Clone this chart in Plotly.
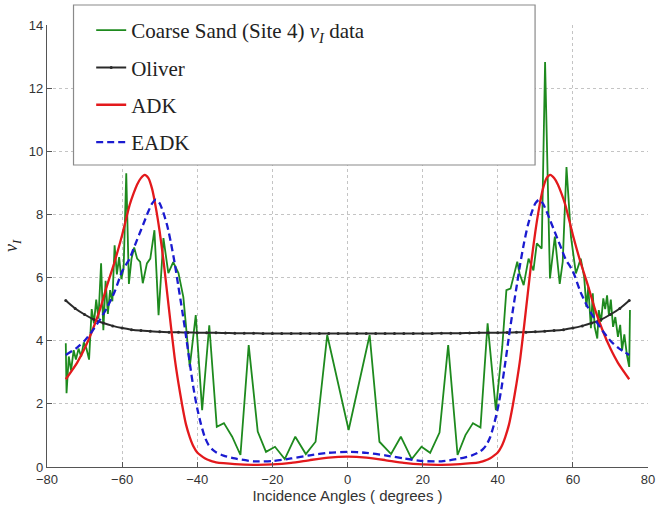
import plotly.graph_objects as go

# ---------------- data ----------------
green_x = [-75.0, -74.8, -74.2, -73.6, -72.9, -72.3, -71.6, -70.9, -70.2, -69.5, -68.8, -68.1,
           -67.5, -66.9, -66.3, -65.6, -65.0, -64.4, -63.8, -63.2, -62.6, -62.0, -61.4, -60.8,
           -60.2, -59.6, -58.9, -58.2, -57.5, -56.8, -56.0, -55.2, -54.5, -53.4, -52.5, -51.4,
           -50.3, -49.0, -47.7, -46.4, -45.0, -43.7, -42.0, -40.4, -38.7, -36.8, -34.8, -32.9,
           -30.7, -28.5, -26.3, -23.9, -21.7, -19.3, -16.7, -13.9, -11.1, -8.5, -5.4, 0.3,
           5.9, 8.5, 11.6, 14.2, 17.1, 19.7, 22.0, 24.5, 26.8, 29.3, 31.4, 33.4, 35.4, 37.3,
           39.5, 41.2, 42.3, 43.4, 45.2, 45.8, 46.9, 48.2, 49.5, 50.4, 51.7, 52.6, 53.9, 55.2,
           56.5, 57.3, 58.3, 59.5, 60.8, 62.1, 63.0, 63.6, 64.1, 64.8, 65.3, 65.8, 66.5, 66.9,
           67.5, 68.1, 68.6, 69.1, 69.6, 70.1, 70.7, 71.3, 72.0, 72.6, 73.1, 73.7, 74.4, 75.0, 75.2]
green_y = [3.92, 2.34, 3.5, 3.05, 3.7, 3.4, 3.75, 3.5, 3.95, 3.75, 3.4, 5.0,
           4.55, 5.3, 4.7, 6.45, 4.33, 5.9, 4.85, 5.6, 5.25, 7.02, 6.1, 6.65,
           5.95, 6.3, 9.3, 5.8, 6.6, 6.95, 6.6, 6.5, 5.82, 6.45, 6.6, 7.5,
           4.81, 7.25, 6.14, 6.49, 6.14, 5.38, 3.17, 4.81, 1.8, 4.49, 1.27, 1.39,
           0.96, 0.38, 3.86, 1.12, 0.48, 0.64, 0.25, 0.96, 0.41, 0.8, 4.18, 1.17,
           4.18, 0.8, 0.41, 0.96, 0.25, 0.64, 0.45, 1.09, 3.86, 0.38, 1.01, 1.39, 1.25, 4.55,
           1.80, 3.81, 5.6, 5.65, 6.5, 6.13, 5.76, 6.6, 6.23, 7.08, 6.92, 12.83, 5.97, 7.3,
           5.8, 6.5, 9.5, 7.29, 6.13, 6.6, 6.02, 5.07, 5.7, 4.4, 5.5, 4.44, 4.07, 4.97,
           4.6, 5.34, 5.0, 5.44, 4.8, 5.3, 4.44, 4.75, 4.12, 4.5, 3.7, 4.2, 3.54, 3.17, 4.97]

# model curves (symmetric about 0): angle magnitudes and values
model_angles = [0, 5, 10, 15, 20, 25, 30, 33, 35, 36, 37, 38, 39, 40, 41, 42, 43, 44, 45, 46,
                47, 48, 49, 50, 51, 52, 53, 54, 55, 56, 57, 58, 60, 62, 64, 66, 68, 70, 72, 75]
adk_half = [0.33, 0.3, 0.22, 0.13, 0.08, 0.07, 0.09, 0.12, 0.15, 0.18, 0.22, 0.28, 0.36, 0.46,
            0.65, 0.95, 1.35, 1.95, 2.65, 3.45, 4.45, 5.5, 6.55, 7.45, 8.2, 8.8, 9.15, 9.25,
            9.15, 8.95, 8.65, 8.3, 7.35, 6.5, 5.75, 4.95, 4.3, 3.75, 3.3, 2.78]
eadk_half = [0.48, 0.45, 0.37, 0.27, 0.19, 0.18, 0.27, 0.36, 0.47, 0.56, 0.7, 0.95, 1.35, 1.85,
             2.5, 3.3, 4.15, 4.95, 5.7, 6.45, 7.1, 7.65, 8.05, 8.35, 8.47, 8.35, 8.1, 7.8,
             7.5, 7.2, 6.9, 6.6, 6.2, 5.55, 5.05, 4.65, 4.3, 4.0, 3.78, 3.55]
oliver_angles = [0, 2.5, 5, 7.5, 10, 12.5, 15, 17.5, 20, 22.5, 25, 27.5, 30, 32.5, 35, 37.5,
                 40, 42.5, 45, 47.5, 50, 52.5, 55, 57.5, 60, 62.5, 65, 67.5, 70, 72.5, 75]
oliver_half = [4.23, 4.23, 4.23, 4.23, 4.23, 4.23, 4.23, 4.23, 4.23, 4.23, 4.235, 4.24, 4.24,
               4.245, 4.25, 4.25, 4.255, 4.26, 4.265, 4.27, 4.28, 4.3, 4.32, 4.35, 4.4, 4.47,
               4.56, 4.67, 4.83, 5.02, 5.27]

x_ticks = [-80, -60, -40, -20, 0, 20, 40, 60, 80]
y_ticks = [0, 2, 4, 6, 8, 10, 12, 14]


def mirror(ang, val):
    xs = [-a for a in reversed(ang[1:])] + list(ang)
    ys = list(reversed(val[1:])) + list(val)
    return xs, ys


adk_x, adk_y = mirror(model_angles, adk_half)
eadk_x, eadk_y = mirror(model_angles, eadk_half)
oli_x, oli_y = mirror(oliver_angles, oliver_half)

# ---------------- figure ----------------
fig = go.Figure()
fig.add_trace(go.Scatter(x=green_x, y=green_y, mode="lines", name="Coarse Sand (Site 4) <i>ν<sub>I</sub></i> data",
                         line=dict(color="#1e8a1e", width=1.8), legendgroup="a"))
fig.add_trace(go.Scatter(x=oli_x, y=oli_y, mode="lines+markers", name="Oliver",
                         line=dict(color="#2a2a2a", width=2.0, shape="spline"),
                         marker=dict(size=3, color="#2a2a2a"), legendgroup="b"))
fig.add_trace(go.Scatter(x=adk_x, y=adk_y, mode="lines", name="ADK",
                         line=dict(color="#e3191c", width=2.3, shape="spline", smoothing=0.6),
                         legendgroup="c"))
fig.add_trace(go.Scatter(x=eadk_x, y=eadk_y, mode="lines", name="EADK",
                         line=dict(color="#1b1bd0", width=2.3, dash="7px,4px", shape="spline", smoothing=0.6),
                         legendgroup="d"))

L, R, T, B = 43, 10, 25, 46
W, H = 665, 513
pw, ph = W - L - R, H - T - B


def px_to_paper_x(px):
    return (px - L) / pw


def px_to_paper_y(py):
    return (H - B - py) / ph


fig.add_shape(type="rect", xref="paper", yref="paper",
              x0=px_to_paper_x(70), x1=px_to_paper_x(540),
              y0=px_to_paper_y(165), y1=px_to_paper_y(5),
              line=dict(color="#8a8a8a", width=1.2), fillcolor="white", layer="above")

axis_font = dict(family="Liberation Sans, Arial, sans-serif", size=13, color="#333333")
grid_col = "#c4c4c4"
fig.update_layout(
    width=W, height=H,
    margin=dict(l=L, r=R, t=T, b=B),
    paper_bgcolor="white", plot_bgcolor="white",
    showlegend=True,
    legend=dict(x=px_to_paper_x(88), y=px_to_paper_y(10), xanchor="left", yanchor="top",
                bgcolor="rgba(0,0,0,0)", borderwidth=0,
                font=dict(family="Liberation Serif, DejaVu Serif, serif", size=21, color="#222222"),
                traceorder="grouped", tracegroupgap=7),
    xaxis=dict(range=[-80, 80], tickvals=x_ticks, ticktext=[("−" + str(-v)) if v < 0 else str(v) for v in x_ticks],
               showgrid=True, gridcolor=grid_col, griddash="dot", gridwidth=1,
               showline=True, linecolor="#555555", linewidth=1.2,
               ticks="inside", ticklen=5, tickcolor="#555555",
               tickfont=axis_font, zeroline=False,
               title=dict(text="Incidence Angles ( degrees )", font=dict(family="Liberation Sans, Arial, sans-serif", size=15, color="#333333"), standoff=4)),
    yaxis=dict(range=[0, 14], tickvals=y_ticks,
               showgrid=True, gridcolor=grid_col, griddash="dot", gridwidth=1,
               showline=True, linecolor="#555555", linewidth=1.2,
               ticks="inside", ticklen=5, tickcolor="#555555",
               tickfont=axis_font, zeroline=False,
               title=dict(text="<i>ν<sub>I</sub></i>", font=dict(family="Liberation Serif, DejaVu Serif, serif", size=18, color="#222222"), standoff=6)),
)

fig.write_html("out.html")
